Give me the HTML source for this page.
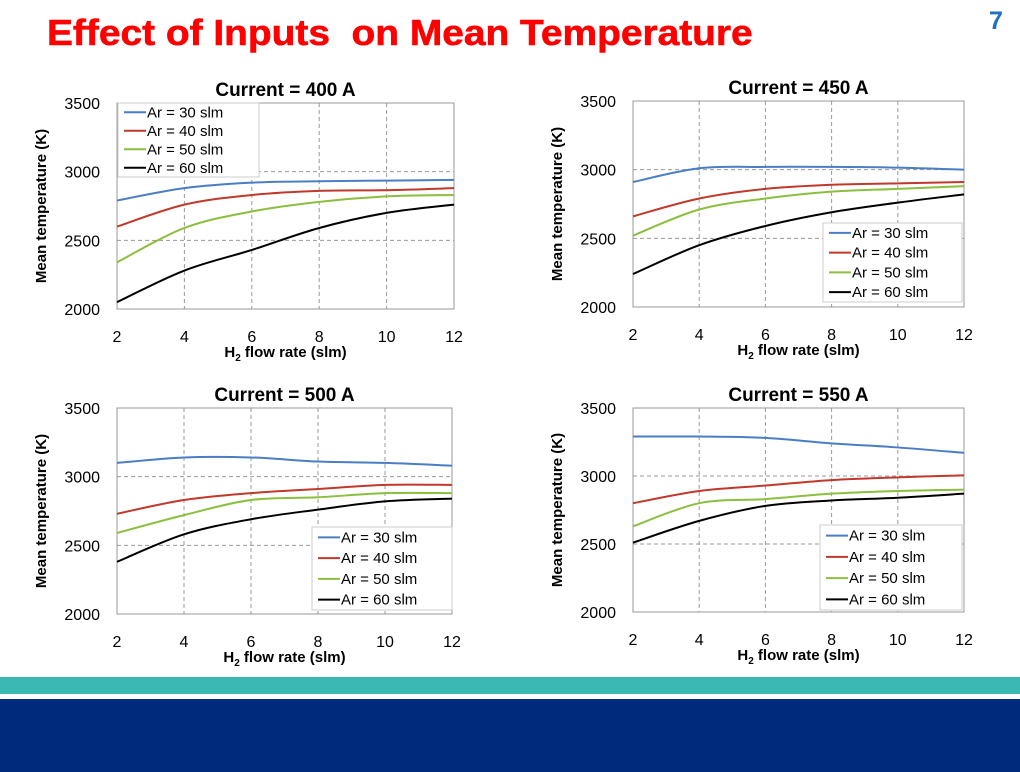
<!DOCTYPE html>
<html><head><meta charset="utf-8"><style>
body{margin:0;width:1020px;height:772px;overflow:hidden;background:#fff;font-family:"Liberation Sans",sans-serif;position:relative}
#title{position:absolute;left:47px;top:12px;font-size:36px;font-weight:bold;color:#f00;transform:scaleX(1.08);transform-origin:0 0;white-space:nowrap;-webkit-text-stroke:0.6px #f00}
#pg{position:absolute;left:989px;top:7px;font-size:25px;font-weight:bold;color:#1f6fc4}
#teal{position:absolute;left:0;top:677px;width:1020px;height:17px;background:#3cb8b4}
#navy{position:absolute;left:0;top:699px;width:1020px;height:73px;background:#002b7c}
</style></head><body>
<div id="title">Effect of Inputs&nbsp; on Mean Temperature</div>
<div id="pg">7</div>
<div id="teal"></div>
<div id="navy"></div>
<svg id="svg" width="1020" height="772" style="position:absolute;left:0;top:0"></svg>
<script>
const xCats=[2,4,6,8,10,12];
const yTicks=[2000,2500,3000,3500];
const seriesNames=["Ar = 30 slm","Ar = 40 slm","Ar = 50 slm","Ar = 60 slm"];
const colors=["#4a7ec4","#c0392b","#8cbf3f","#000"];
const titles=["Current = 400 A","Current = 450 A","Current = 500 A","Current = 550 A"];
const c400_30=[2790,2880,2920,2930,2935,2940];
const c400_40=[2600,2760,2830,2860,2865,2880];
const c400_50=[2340,2590,2710,2780,2820,2830];
const c400_60=[2050,2280,2430,2590,2700,2760];
const c450_30=[2910,3010,3020,3020,3015,3000];
const c450_40=[2660,2790,2860,2890,2900,2910];
const c450_50=[2520,2710,2790,2840,2860,2880];
const c450_60=[2240,2450,2590,2690,2760,2820];
const c500_30=[3100,3140,3140,3110,3100,3080];
const c500_40=[2730,2830,2880,2910,2940,2940];
const c500_50=[2590,2720,2830,2850,2880,2880];
const c500_60=[2380,2580,2690,2760,2820,2840];
const c550_30=[3290,3290,3280,3240,3210,3170];
const c550_40=[2800,2890,2930,2970,2990,3005];
const c550_50=[2630,2800,2830,2870,2890,2900];
const c550_60=[2510,2670,2780,2820,2840,2870];
const data=[[c400_30,c400_40,c400_50,c400_60],[c450_30,c450_40,c450_50,c450_60],[c500_30,c500_40,c500_50,c500_60],[c550_30,c550_40,c550_50,c550_60]];
const panels=[{x0:117,x1:454,yt:103,yb:309,leg:[118,103,141,74]},
{x0:633,x1:964,yt:101,yb:307,leg:[823,223,139,79]},
{x0:117,x1:452,yt:408,yb:614,leg:[312,527,140,83]},
{x0:633,x1:964,yt:408,yb:612,leg:[820,525,142,85]}];
const NS="http://www.w3.org/2000/svg";
const svg=document.getElementById('svg');
function mk(t,a,p){const e=document.createElementNS(NS,t);for(const k in a)e.setAttribute(k,a[k]);(p||svg).appendChild(e);return e;}
function smooth(pts){let d='M'+pts[0][0]+','+pts[0][1];for(let i=0;i<pts.length-1;i++){const p0=pts[Math.max(0,i-1)],p1=pts[i],p2=pts[i+1],p3=pts[Math.min(pts.length-1,i+2)];
const c1=[p1[0]+(p2[0]-p0[0])/6,p1[1]+(p2[1]-p0[1])/6],c2=[p2[0]-(p3[0]-p1[0])/6,p2[1]-(p3[1]-p1[1])/6];
d+=` C${c1[0]},${c1[1]} ${c2[0]},${c2[1]} ${p2[0]},${p2[1]}`;}return d;}
panels.forEach((P,i)=>{
const g=mk('g',{});


const sx=v=>P.x0+(v-2)/10*(P.x1-P.x0);
const sy=v=>P.yb-(v-2000)/1500*(P.yb-P.yt);
xCats.slice(1,-1).forEach(v=>{const l=mk('line',{x1:sx(v),x2:sx(v),y1:P.yt,y2:P.yb,stroke:'#999','stroke-dasharray':'4,3'},g);});
yTicks.slice(1,-1).forEach(v=>{const l=mk('line',{x1:P.x0,x2:P.x1,y1:sy(v),y2:sy(v),stroke:'#999','stroke-dasharray':'4,3'},g);});
const r=mk('rect',{x:P.x0,y:P.yt,width:P.x1-P.x0,height:P.yb-P.yt,fill:'none',stroke:'#999'},g);

yTicks.forEach(v=>{const t=mk('text',{x:P.x0-17,y:sy(v)+6,'text-anchor':'end','font-size':16},g);t.textContent=v;});
xCats.forEach(v=>{const t=mk('text',{x:sx(v),y:P.yb+33,'text-anchor':'middle','font-size':16},g);t.textContent=v;});
const xt=mk('text',{x:(P.x0+P.x1)/2,y:P.yb+48,'text-anchor':'middle','font-size':15,'font-weight':'bold'},g);
xt.innerHTML='H<tspan font-size="10" dy="4">2</tspan><tspan dy="-4"> flow rate (slm)</tspan>';

const yx=P.x0-71,ym=(P.yt+P.yb)/2;
const yt=mk('text',{x:yx,y:ym,'text-anchor':'middle','font-size':15,'font-weight':'bold',transform:`rotate(-90 ${yx} ${ym})`},g);
yt.textContent='Mean temperature (K)';
const tt=mk('text',{x:(P.x0+P.x1)/2,y:P.yt-7,'text-anchor':'middle','font-size':19,'font-weight':'bold'},g);
tt.textContent=titles[i];
data[i].forEach((s,j)=>{const pl=mk('path',{d:smooth(s.map((v,k)=>[sx(xCats[k]),sy(v)])),fill:'none',stroke:colors[j],'stroke-width':2,'stroke-linejoin':'round'},g);
});
const [lx,ly,lw,lh]=P.leg;
const lg=mk('g',{},g);
mk('rect',{x:lx,y:ly,width:lw,height:lh,fill:'#fff',stroke:'#ccc'},lg);
const step=lh/4;
seriesNames.forEach((n,j)=>{const cy=ly+step*(j+0.5);
mk('line',{x1:lx+6,x2:lx+28,y1:cy,y2:cy,stroke:colors[j],'stroke-width':2},lg);
const t=mk('text',{x:lx+29,y:cy+5,'font-size':15},lg);t.textContent=n;});
});
</script>
</body></html>
